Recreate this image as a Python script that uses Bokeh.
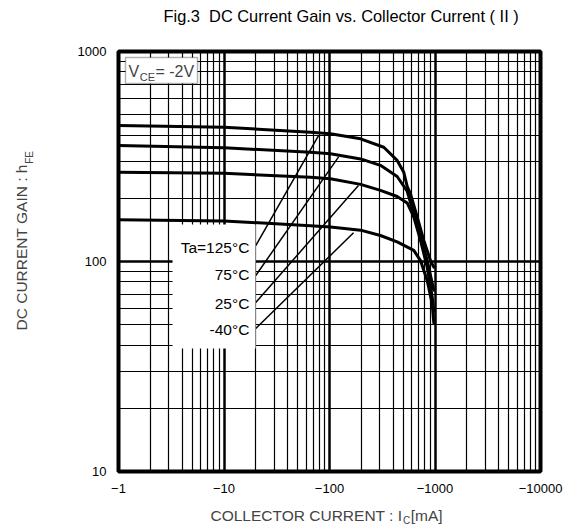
from bokeh.plotting import figure
from bokeh.layouts import row, column
from bokeh.models import Range1d, FixedTicker, Label, BoxAnnotation
from bokeh.embed import file_html
from bokeh.resources import INLINE

# ---- data ----
ic_125 = [1, 10, 66, 102, 197, 327, 438, 506, 545, 586, 678, 783, 906, 974]
hfe_125 = [444, 436, 413, 406, 384, 350, 303, 266, 228, 210, 163, 126, 101, 94]

ic_75 = [1, 10, 66, 102, 197, 304, 438, 545, 629, 729, 844, 974]
hfe_75 = [357, 348, 331, 326, 308, 287, 254, 216, 169, 131, 101, 73]

ic_25 = [1, 10, 66, 102, 197, 304, 438, 545, 629, 729, 844, 940, 974]
hfe_25 = [266, 263, 252, 248, 233, 218, 204, 190, 163, 126, 94, 68, 58]

ic_m40 = [1, 10, 66, 102, 197, 304, 438, 629, 729, 844, 940, 974]
hfe_m40 = [158, 156, 148, 146, 141, 133, 124, 113, 101, 81, 63, 51]

x_ticks = [1, 10, 100, 1000, 10000]
x_tick_labels = ["\u22121", "\u221210", "\u2212100", "\u22121000", "\u221210000"]
y_ticks = [10, 100, 1000]
y_tick_labels = ["10", "100", "1000"]

temp_labels = ["Ta=125\u00b0C", "75\u00b0C", "25\u00b0C", "-40\u00b0C"]
# leader lines from labels to curves (data coords)
lead_x0 = [20, 20, 20, 20]
lead_y0 = [119, 85.8, 63.8, 48.0]
lead_x1 = [78.7, 122, 188, 169]
lead_y1 = [398, 315, 230, 137]

FONT = "Liberation Sans"

x_minor = [m * 10 ** k for k in range(0, 4) for m in range(2, 10)]
y_minor = [m * 10 ** k for k in range(1, 3) for m in range(2, 10)]

# layout sizes (pixels)
WL = 40          # left strip for the y-axis label
HT = 30          # top strip for the title
HX = 26          # bottom strip for the x-axis label
W = 564 - WL
HP = 526 - HT - HX
BL, BR = 78, 24  # left/right borders shared by the stacked figures
FW = W - BL - BR


def strip(h):
    f = figure(width=W, height=h, x_range=Range1d(0, FW), y_range=Range1d(0, h),
               x_axis_location=None, y_axis_location=None, title=None,
               output_backend="svg", toolbar_location=None,
               min_border_left=BL, min_border_right=BR,
               min_border_top=0, min_border_bottom=0)
    f.xgrid.visible = False
    f.ygrid.visible = False
    f.outline_line_color = None
    f.background_fill_color = "white"
    f.border_fill_color = "white"
    return f


p = figure(width=W, height=HP, x_axis_type="log", y_axis_type="log",
           x_range=Range1d(1, 10000), y_range=Range1d(10, 1000), title=None,
           output_backend="svg", toolbar_location=None,
           min_border_left=BL, min_border_right=BR,
           min_border_top=21, min_border_bottom=29)
p.background_fill_color = "white"
p.border_fill_color = "white"
p.outline_line_color = "black"
p.outline_line_width = 4

xt = FixedTicker(ticks=x_ticks, minor_ticks=x_minor)
yt = FixedTicker(ticks=y_ticks, minor_ticks=y_minor)
p.xaxis.ticker = xt
p.yaxis.ticker = yt
p.xgrid.ticker = xt
p.ygrid.ticker = yt
p.xaxis.major_label_overrides = dict(zip(x_ticks, x_tick_labels))
p.yaxis.major_label_overrides = dict(zip(y_ticks, y_tick_labels))

for g in (p.xgrid, p.ygrid):
    g.grid_line_color = "black"
    g.grid_line_width = 2.5
    g.minor_grid_line_color = "black"
    g.minor_grid_line_width = 1.2

for ax in (p.xaxis, p.yaxis):
    ax.axis_line_color = None
    ax.major_tick_line_color = None
    ax.minor_tick_line_color = None
    ax.major_tick_out = 0
    ax.minor_tick_out = 0
    ax.major_tick_in = 0
    ax.minor_tick_in = 0
    ax.major_label_text_font = FONT
    ax.major_label_text_font_size = "13px"
    ax.major_label_text_color = "black"
p.xaxis.major_label_standoff = 12
p.yaxis.major_label_standoff = 12

for xs, ys in ((ic_125, hfe_125), (ic_75, hfe_75), (ic_25, hfe_25), (ic_m40, hfe_m40)):
    p.line(xs, ys, line_width=3, line_color="black", line_join="round", line_cap="round")

p.segment(x0=lead_x0, y0=lead_y0, x1=lead_x1, y1=lead_y1, line_width=1.5, line_color="black")

# white box behind temperature labels
p.add_layout(BoxAnnotation(left=3.25, right=19.9, top=150, bottom=38.5,
                           fill_color="white", fill_alpha=1, line_color=None))
label_y = [116.6, 86.7, 63.4, 47.2]
for t, yy in zip(temp_labels, label_y):
    p.add_layout(Label(x=17.4, y=yy, text=t, text_font=FONT, text_font_size="15.5px",
                       text_align="right", text_baseline="middle", text_color="black"))

# VCE box
p.add_layout(BoxAnnotation(left=1.165, right=5.61, top=936, bottom=704,
                           fill_color="white", fill_alpha=1, line_color="black", line_width=1.5))
p.add_layout(Label(x=1, y=1000, x_offset=10, y_offset=-19.7, text="V", text_font=FONT,
                   text_font_size="16px", text_align="left", text_baseline="middle"))
p.add_layout(Label(x=1, y=1000, x_offset=21.3, y_offset=-25.8, text="CE", text_font=FONT,
                   text_font_size="11px", text_align="left", text_baseline="middle"))
p.add_layout(Label(x=1, y=1000, x_offset=37, y_offset=-19.7, text="= -2V", text_font=FONT,
                   text_font_size="16px", text_align="left", text_baseline="middle"))

# title strip (x measured from the plot frame's left edge)
pt = strip(HT)
pt.add_layout(Label(x=45, y=15, text="Fig.3 \u00a0DC Current Gain vs. Collector Current ( II )",
                    text_font=FONT, text_font_size="16.4px", text_align="left",
                    text_baseline="middle", text_color="black"))

# x label strip
px = strip(HX)
px.add_layout(Label(x=92, y=11, text="COLLECTOR CURRENT : I", text_font=FONT,
                    text_font_size="15.5px", text_align="left", text_baseline="middle"))
px.add_layout(Label(x=284.5, y=5.6, text="C", text_font=FONT,
                    text_font_size="10px", text_align="left", text_baseline="middle"))
px.add_layout(Label(x=292.2, y=11, text="[mA]", text_font=FONT,
                    text_font_size="15.5px", text_align="left", text_baseline="middle"))

# y label strip
pl = figure(width=WL, height=526, x_range=Range1d(0, WL), y_range=Range1d(0, 526),
            x_axis_location=None, y_axis_location=None, title=None,
            output_backend="svg", toolbar_location=None, min_border=0)
pl.xgrid.visible = False
pl.ygrid.visible = False
pl.outline_line_color = None
pl.add_layout(Label(x=21, y=196, angle=90, angle_units="deg", text="DC CURRENT GAIN : h",
                    text_font=FONT, text_font_size="15.5px", text_align="left",
                    text_baseline="middle"))
pl.add_layout(Label(x=28.5, y=362.7, angle=90, angle_units="deg", text="FE",
                    text_font=FONT, text_font_size="10px", text_align="left",
                    text_baseline="middle"))

layout = row(pl, column(pt, p, px))

open("out.html", "w").write(file_html(layout, INLINE))
